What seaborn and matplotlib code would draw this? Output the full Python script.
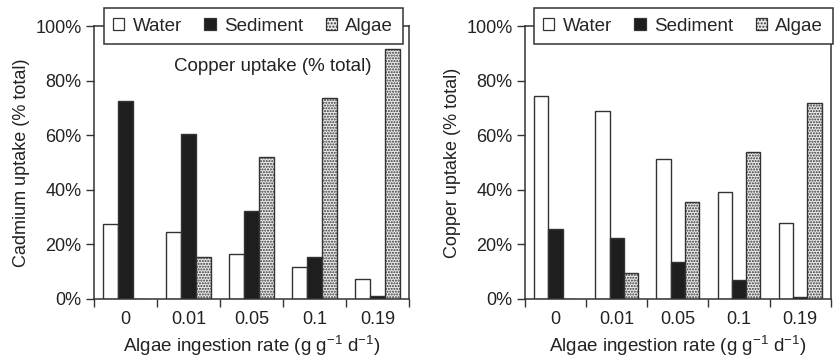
import numpy as np
import pandas as pd
import matplotlib
matplotlib.use("Agg")
import matplotlib.pyplot as plt
import seaborn as sns
from matplotlib.patches import Patch

# data (percent of total uptake)
rates = ["0", "0.01", "0.05", "0.1", "0.19"]
sources = ["Water", "Sediment", "Algae"]
cd_water = [27.5, 24.4, 16.5, 11.6, 7.4]
cd_sediment = [72.5, 60.4, 32.4, 15.3, 1.1]
cd_algae = [0.0, 15.3, 52.1, 73.5, 91.5]
cu_water = [74.5, 68.9, 51.3, 39.1, 27.7]
cu_sediment = [25.5, 22.5, 13.4, 7.0, 0.8]
cu_algae = [0.0, 9.4, 35.4, 54.0, 71.9]

sns.set_style("white")
plt.rcParams['font.family'] = ['Liberation Sans', 'DejaVu Sans']
plt.rcParams['mathtext.fontset'] = 'custom'
plt.rcParams['mathtext.rm'] = 'Liberation Sans'
plt.rcParams['mathtext.it'] = 'Liberation Sans'

edge = "#333333"
txt = "#222222"
palette = {"Water": "white", "Sediment": "#1e1e1e", "Algae": "#ececec"}
plt.rcParams['hatch.color'] = "#a0a0a0"
plt.rcParams['hatch.linewidth'] = 1.0


def long_df(w, s, a):
    rows = []
    for i, r in enumerate(rates):
        rows.append((r, "Water", w[i]))
        rows.append((r, "Sediment", s[i]))
        rows.append((r, "Algae", a[i]))
    return pd.DataFrame(rows, columns=["rate", "source", "pct"])


fig = plt.figure(figsize=(8.35, 3.57), dpi=100)
ax1 = fig.add_axes([0.1126, 0.1625, 0.3772, 0.7645])
ax2 = fig.add_axes([0.6287, 0.1625, 0.3663, 0.7645])

panels = [
    (ax1, long_df(cd_water, cd_sediment, cd_algae), "Cadmium uptake (% total)", 0.505),
    (ax2, long_df(cu_water, cu_sediment, cu_algae), "Copper uptake (% total)", 0.517),
]

for ax, df, ylab, legx in panels:
    sns.barplot(data=df, x="rate", y="pct", hue="source", hue_order=sources,
                order=rates, palette=palette, width=0.7, edgecolor=edge,
                linewidth=1.0, ax=ax, legend=False)
    # dotted fill for algae bars
    for bar in ax.containers[2]:
        bar.set_hatch("......")
        bar.set_edgecolor(edge)
    ax.set_xlim(-0.5, 4.5)
    ax.set_ylim(0, 100)
    ax.set_yticks([0, 20, 40, 60, 80, 100])
    ax.set_yticklabels([f"{v}%" for v in [0, 20, 40, 60, 80, 100]])
    ax.set_xticks(range(len(rates)))
    ax.set_xticklabels(rates)
    ax.set_xticks(np.arange(-0.5, 5, 1), minor=True)
    ax.tick_params(axis="x", which="major", length=0, pad=9, labelsize=13, colors=txt)
    ax.tick_params(axis="x", which="minor", length=6, width=1.0, direction="out",
                   color=edge, bottom=True)
    ax.tick_params(axis="y", length=6, width=1.0, direction="out", left=True,
                   labelsize=13, colors=txt, pad=3)
    ax.tick_params(axis="y", color=edge)
    for sp in ax.spines.values():
        sp.set_visible(True)
        sp.set_color(edge)
        sp.set_linewidth(1.1)
    ax.set_xlabel("Algae ingestion rate (g g$^{-1}$ d$^{-1}$)", fontsize=13.5,
                  color=txt, labelpad=4)
    ax.set_ylabel(ylab, fontsize=13, color=txt, labelpad=4)

    handles = [Patch(facecolor=palette[s], edgecolor=edge, linewidth=0.9,
                     hatch=("....." if s == "Algae" else None), label=s)
               for s in sources]
    leg = ax.legend(handles=handles, ncol=3, loc="center", bbox_to_anchor=(legx, 1.0),
                    fontsize=13.5, frameon=True, fancybox=False, framealpha=1,
                    edgecolor=edge, handlelength=0.6, handleheight=0.6,
                    handletextpad=0.45, columnspacing=1.2, borderpad=0.5,
                    borderaxespad=0)
    leg.get_frame().set_linewidth(1.1)
    leg.set_zorder(5)

ax1.text(0.566, 0.853, "Copper uptake (% total)", transform=ax1.transAxes,
         ha="center", va="center", fontsize=13.5, color=txt)

fig.savefig("out.png", dpi=100)
